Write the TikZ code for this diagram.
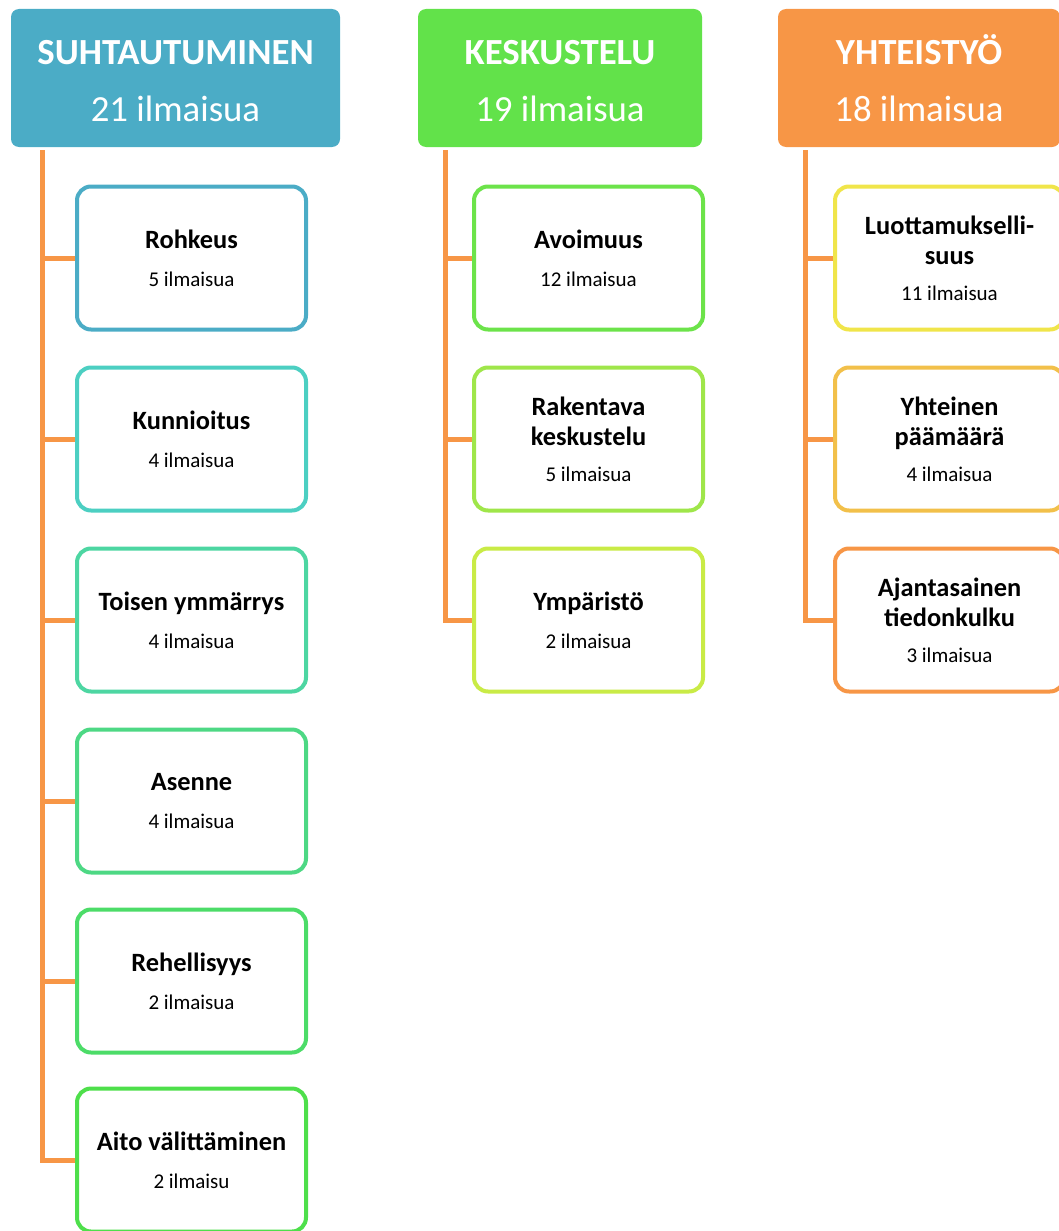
\documentclass[tikz,border=0pt]{standalone}
\usepackage{fontspec}
\setmainfont{Carlito}

\definecolor{hdblue}{HTML}{4BACC6}
\definecolor{hdgreen}{HTML}{62E24A}
\definecolor{hdorange}{HTML}{F79646}
\definecolor{rimA}{HTML}{4BACC6}
\definecolor{rimB}{HTML}{4CCFC2}
\definecolor{rimC}{HTML}{4DD6A2}
\definecolor{rimD}{HTML}{4DD884}
\definecolor{rimE}{HTML}{4CDC68}
\definecolor{rimF}{HTML}{4EDF4B}
\definecolor{rimG}{HTML}{6CE34A}
\definecolor{rimH}{HTML}{9FE64A}
\definecolor{rimI}{HTML}{C9EB46}
\definecolor{rimJ}{HTML}{F0E54A}
\definecolor{rimK}{HTML}{F2C04A}
\definecolor{rimL}{HTML}{F79646}

\newcommand\cnt{\fontsize{21}{25}\selectfont\mdseries}

\begin{document}
\begin{tikzpicture}[
  x = 1pt, y = -1pt,
  % headers are filled, the items only have a coloured rim
  head/.style  = {rounded corners=8pt, minimum height=138pt, inner sep=0pt,
                  align=center, text=white, font=\fontsize{36.8}{57}\selectfont},
  item/.style  = {rounded corners=14pt, line width=4pt, fill=white,
                  minimum width=229pt, minimum height=143pt, inner sep=2pt,
                  align=center, font=\fontsize{26.4}{30}\selectfont\bfseries},
  trunk/.style = {draw=hdorange, line width=5pt},
]
\useasboundingbox (0, 0) rectangle (1059, 1231);
\clip (0, 0) rectangle (1059, 1231);

% --- SUHTAUTUMINEN
\node[head, fill=hdblue, minimum width=329pt] (suht) at (175.5, 78)
  {\vphantom{Ö}{\bfseries SUHTAUTUMINEN}\\ 21 ilmaisua};
\node[item, draw=rimA] (rohkeus)    at (191.5, 258)  {Rohkeus\\[8pt]{\cnt 5 ilmaisua}};
\node[item, draw=rimB] (kunnioitus) at (191.5, 439)  {Kunnioitus\\[8pt]{\cnt 4 ilmaisua}};
\node[item, draw=rimC] (toisen)     at (191.5, 620)  {Toisen ymmärrys\\[8pt]{\cnt 4 ilmaisua}};
\node[item, draw=rimD] (asenne)     at (191.5, 801)  {Asenne\\[8pt]{\cnt 4 ilmaisua}};
\node[item, draw=rimE] (rehell)     at (191.5, 981)  {Rehellisyys\\[8pt]{\cnt 2 ilmaisua}};
\node[item, draw=rimF] (aito)       at (191.5, 1160) {Aito välittäminen\\[8pt]{\cnt 2 ilmaisu}};
\coordinate (t1) at (42, 150);
\draw[trunk] (t1) |- (aito.west);
\foreach \b in {rohkeus, kunnioitus, toisen, asenne, rehell}
  \draw[trunk] (t1 |- \b.west) -- (\b.west);

% --- KESKUSTELU
\node[head, fill=hdgreen, minimum width=284pt] (kesk) at (560, 78)
  {\vphantom{Ö}{\bfseries KESKUSTELU}\\ 19 ilmaisua};
\node[item, draw=rimG] (avoim)  at (588.5, 258) {Avoimuus\\[8pt]{\cnt 12 ilmaisua}};
\node[item, draw=rimH] (rakent) at (588.5, 439) {Rakentava\\keskustelu\\[6pt]{\cnt 5 ilmaisua}};
\node[item, draw=rimI] (ympar)  at (588.5, 620) {Ympäristö\\[8pt]{\cnt 2 ilmaisua}};
\coordinate (t2) at (445, 150);
\draw[trunk] (t2) |- (ympar.west);
\foreach \b in {avoim, rakent}
  \draw[trunk] (t2 |- \b.west) -- (\b.west);

% --- YHTEISTYÖ
\node[head, fill=hdorange, minimum width=282pt] (yhteis) at (919, 78)
  {\vphantom{Ö}{\bfseries YHTEISTYÖ}\\ 18 ilmaisua};
\node[item, draw=rimJ] (luott)  at (949.5, 258) {Luottamukselli-\\suus\\[6pt]{\cnt 11 ilmaisua}};
\node[item, draw=rimK] (paama)  at (949.5, 439) {Yhteinen\\päämäärä\\[6pt]{\cnt 4 ilmaisua}};
\node[item, draw=rimL] (ajanta) at (949.5, 620) {Ajantasainen\\tiedonkulku\\[6pt]{\cnt 3 ilmaisua}};
\coordinate (t3) at (805, 150);
\draw[trunk] (t3) |- (ajanta.west);
\foreach \b in {luott, paama}
  \draw[trunk] (t3 |- \b.west) -- (\b.west);

\end{tikzpicture}
\end{document}
